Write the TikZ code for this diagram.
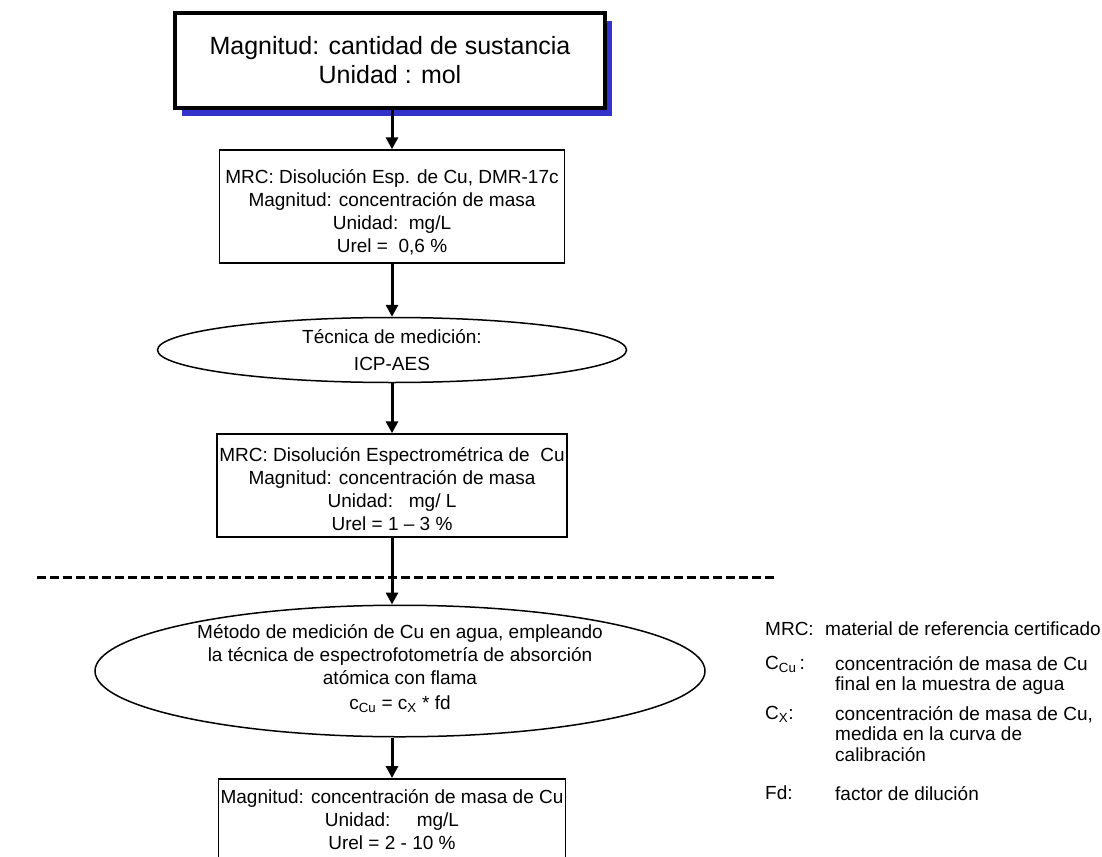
\documentclass[tikz,border=0pt]{standalone}
\usepackage{fontspec}
\setmainfont{Liberation Sans}
\usetikzlibrary{arrows.meta,shapes.geometric,shadows}
\definecolor{sombra}{RGB}{51,51,204}

\begin{document}
\begin{tikzpicture}[x=1pt,y=-1pt,
    caja/.style={draw,fill=white,line width=1.5pt,align=center,inner sep=0pt,font=\fontsize{19}{23}\selectfont},
    elipse/.style={caja,ellipse},
    flecha/.style={line width=3pt,-{Triangle[length=12pt,width=12pt]}},
    etiqueta/.style={anchor=north west,inner sep=0pt,align=left,font=\fontsize{19}{20.5}\selectfont}]
  \clip (0,0) rectangle (1102,856);
  % magnitud de base
  \node[caja,line width=3.5pt,minimum width=430pt,minimum height=95pt,font=\fontsize{25}{29}\selectfont,
    drop shadow={shadow xshift=7pt,shadow yshift=-8pt,fill=sombra,opacity=1}] (mol) at (390,60.5)
    {Magnitud: cantidad de sustancia\\Unidad : mol};
  % MRC
  \node[caja,minimum width=345pt,minimum height=113pt] (dmr) at (392,206.5)
    {\rule{0pt}{26pt}MRC: Disolución Esp. de Cu, DMR-17c\\Magnitud: concentración de masa\\Unidad:\ \ mg/L\\Urel =\ \ 0,6 \%};
  \node[elipse,minimum width=469pt,minimum height=65pt] (icp) at (392,350)
    {Técnica de medición:\\[4pt]ICP-AES};
  \node[caja,minimum width=350pt,minimum height=103pt] (mrc) at (392,485.5)
    {\rule{0pt}{22pt}MRC: Disolución Espectrométrica\ de\ \ Cu\\Magnitud: concentración de masa\\Unidad:\ \ \ mg/ L\\Urel = 1 – 3 \%};
  % laboratorio
  \coordinate (lineaA) at (37,577);
  \coordinate (lineaB) at (775,577);
  \draw[line width=3pt,dash pattern=on 9pt off 4pt] (lineaA) -- (lineaB);
  \node[elipse,minimum width=610pt,minimum height=128pt] (aas) at (400,671)
    {Método de medición de Cu en agua, empleando\\la técnica de espectrofotometría de absorción\\atómica con flama\\[2pt]c\textsubscript{Cu} = c\textsubscript{X} * fd\rule[-8pt]{0pt}{8pt}};
  \node[caja,anchor=north,minimum width=347pt,inner ysep=11pt] (res) at (392,778)
    {Magnitud: concentración de masa de Cu\\Unidad:\ \ \ \ \ mg/L\\Urel = 2 - 10 \%};
  \draw[flecha] (mol.south -| dmr) -- (dmr);
  \draw[flecha] (dmr) -- (icp);
  \draw[flecha] (icp) -- (mrc);
  \draw[flecha] (mrc) -- (mrc |- aas.north);
  \draw[flecha] (res |- aas.south) -- (res);
  % leyenda
  \node[etiqueta] (mrcL) at (765,622) {MRC:};
  \node[etiqueta] (mrcD) at (825,622) {material de referencia certificado};
  \node[etiqueta] (ccuL) at (765,656) {C\textsubscript{Cu}\,:};
  \node[etiqueta] (ccuD) at (835,656) {concentración de masa de Cu\\final en la muestra de agua};
  \node[etiqueta] (cxL) at (765,706) {C\textsubscript{X}:};
  \node[etiqueta] (cxD) at (835,706) {concentración de masa de Cu,\\medida en la curva de\\calibración};
  \node[etiqueta] (fdL) at (765,786) {Fd:};
  \node[etiqueta] (fdD) at (835,786) {factor de dilución};
\end{tikzpicture}
\end{document}
